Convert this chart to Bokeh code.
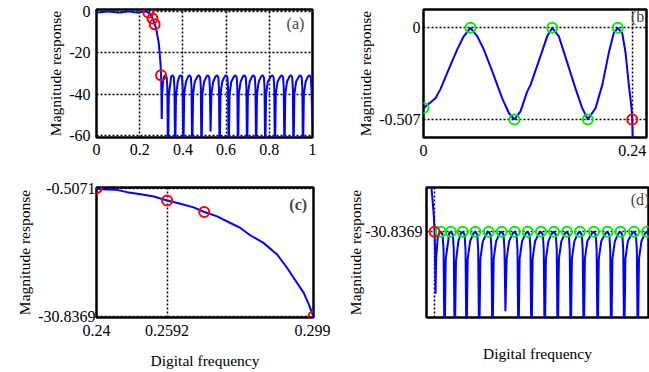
from bokeh.plotting import figure
from bokeh.layouts import column, row
from bokeh.models import Range1d, FixedTicker, Label
from bokeh.embed import file_html
from bokeh.resources import INLINE

FONT = "Liberation Serif"

# ---------------- data ----------------
# passband (panel b)
pass_f = [0.0, 0.0138, 0.0195, 0.0291, 0.0388, 0.0463, 0.0540, 0.0618, 0.0693, 0.0808,
          0.0905, 0.0981, 0.1045, 0.1115, 0.1191, 0.1230, 0.1346, 0.1422, 0.1480, 0.1556,
          0.1652, 0.1748, 0.1825, 0.1889, 0.1978, 0.2055, 0.2131, 0.2188, 0.2234, 0.2285,
          0.2323, 0.2361, 0.2392, 0.2400]
pass_m = [-0.444, -0.390, -0.339, -0.228, -0.119, -0.047, 0.0, -0.047, -0.119, -0.263,
          -0.390, -0.471, -0.507, -0.462, -0.354, -0.317, -0.155, -0.047, 0.0, -0.047,
          -0.191, -0.336, -0.444, -0.507, -0.444, -0.317, -0.137, -0.029, 0.0, -0.029,
          -0.137, -0.317, -0.444, -0.5071]
# transition band (panel c)
trans_f = [0.2412, 0.2452, 0.2483, 0.2520, 0.2556, 0.2592, 0.2628, 0.2664, 0.2693, 0.2728,
           0.2764, 0.2791, 0.2818, 0.2854, 0.2891, 0.2918, 0.2936, 0.2963, 0.2977, 0.2990]
trans_m = [-0.75, -0.85, -1.44, -1.92, -2.47, -3.40, -4.18, -5.04, -6.14, -7.16,
           -8.73, -9.90, -11.63, -13.43, -16.17, -19.31, -21.66, -25.19, -27.93, -30.8369]
# stopband (panels a, d)
stop_f = [0.3005, 0.3020, 0.3040, 0.3090, 0.3140,
          0.319, 0.325, 0.328, 0.331, 0.335, 0.343, 0.346,
          0.352, 0.358, 0.361, 0.364, 0.368, 0.376, 0.384,
          0.390, 0.396, 0.399, 0.402, 0.406, 0.414, 0.425,
          0.431, 0.437, 0.440, 0.443, 0.447, 0.455, 0.468,
          0.474, 0.480, 0.483, 0.486, 0.490, 0.498, 0.510,
          0.516, 0.522, 0.525, 0.528, 0.532, 0.540, 0.552,
          0.558, 0.564, 0.567, 0.570, 0.574, 0.582, 0.594,
          0.600, 0.606, 0.609, 0.612, 0.616, 0.624, 0.637,
          0.643, 0.649, 0.652, 0.655, 0.659, 0.667, 0.679,
          0.685, 0.691, 0.694, 0.697, 0.701, 0.709, 0.721,
          0.727, 0.733, 0.736, 0.739, 0.743, 0.751, 0.763,
          0.769, 0.775, 0.778, 0.781, 0.785, 0.793, 0.808,
          0.814, 0.820, 0.823, 0.826, 0.830, 0.838, 0.852,
          0.858, 0.864, 0.867, 0.870, 0.874, 0.882, 0.894,
          0.900, 0.906, 0.909, 0.912, 0.916, 0.924, 0.938,
          0.944, 0.950, 0.953, 0.956, 0.960, 0.968, 0.980,
          0.986, 0.992, 0.995, 1.000]
stop_m = [-38.0, -52.0, -40.0, -33.0, -31.3,
          -30.84, -31.8, -37.0, -72.0, -40.0, -34.0, -31.3,
          -30.84, -31.8, -37.0, -72.0, -41.0, -34.0, -31.3,
          -30.84, -31.8, -37.0, -72.0, -40.0, -34.0, -31.3,
          -30.84, -31.8, -37.0, -72.0, -40.0, -34.0, -31.3,
          -30.84, -31.8, -37.0, -72.0, -40.0, -34.0, -31.3,
          -30.84, -31.8, -37.0, -58.0, -40.0, -34.0, -31.3,
          -30.84, -31.8, -37.0, -72.0, -40.0, -34.0, -31.3,
          -30.84, -31.8, -37.0, -72.0, -40.0, -34.0, -31.3,
          -30.84, -31.8, -37.0, -72.0, -40.0, -34.0, -31.3,
          -30.84, -31.8, -37.0, -72.0, -40.0, -34.0, -31.3,
          -30.84, -31.8, -37.0, -72.0, -40.0, -34.0, -31.3,
          -30.84, -31.8, -37.0, -72.0, -40.0, -34.0, -31.3,
          -30.84, -31.8, -37.0, -72.0, -40.0, -34.0, -31.3,
          -30.84, -31.8, -37.0, -72.0, -40.0, -34.0, -31.3,
          -30.84, -31.8, -37.0, -72.0, -40.0, -34.0, -31.3,
          -30.84, -31.8, -37.0, -72.0, -40.0, -34.0, -31.3,
          -30.84, -31.8, -37.0, -54.0]

freq = pass_f + trans_f + stop_f
mag = pass_m + trans_m + stop_m

# marked points
red_f = [0.24, 0.2592, 0.2693, 0.299]
red_m = [-0.5071, -3.40, -6.14, -30.8369]
green_b_f = [0.0, 0.0540, 0.1045, 0.1480, 0.1889, 0.2234]
green_b_m = [-0.444, 0.0, -0.507, 0.0, -0.507, 0.0]
green_d_f = [0.319, 0.352, 0.390, 0.431, 0.474, 0.516, 0.558, 0.600, 0.643,
             0.685, 0.727, 0.769, 0.814, 0.858, 0.900, 0.944, 0.986]
green_d_m = [-30.8369] * 17

# ticks
a_xticks = [0, 0.2, 0.4, 0.6, 0.8, 1]
a_xlabels = ["0", "0.2", "0.4", "0.6", "0.8", "1"]
a_yticks = [0, -20, -40, -60]
a_ylabels = ["0", "-20", "-40", "-60"]
b_xticks = [0, 0.24]
b_xlabels = ["0", "0.24"]
b_yticks = [0, -0.507]
b_ylabels = ["0", "-0.507"]
c_xticks = [0.24, 0.2592, 0.299]
c_xlabels = ["0.24", "0.2592", "0.299"]
c_yticks = [-0.5071, -30.8369]
c_ylabels = ["-0.5071", "-30.8369"]
d_yticks = [-30.8369]
d_ylabels = ["-30.8369"]


def make_fig(width, height, bl, br, bt, bb, xr, yr):
    p = figure(width=width, height=height, output_backend="svg", toolbar_location=None,
               x_range=Range1d(*xr), y_range=Range1d(*yr),
               min_border_left=bl, min_border_right=br,
               min_border_top=bt, min_border_bottom=bb)
    p.outline_line_color = "black"
    p.outline_line_width = 2.5
    p.outline_line_alpha = 1.0
    for ax in p.axis:
        ax.axis_line_color = None
        ax.major_tick_line_color = None
        ax.minor_tick_line_color = None
        ax.major_tick_out = 0
        ax.major_tick_in = 0
        ax.minor_tick_out = 0
        ax.minor_tick_in = 0
        ax.major_label_text_font = FONT
        ax.major_label_text_font_size = "16px"
        ax.major_label_text_color = "black"
        ax.axis_label_text_font = FONT
        ax.axis_label_text_font_size = "15.5px"
        ax.axis_label_text_font_style = "normal"
        ax.axis_label_text_color = "black"
    for ax in p.yaxis:
        ax.major_label_text_align = "right"
    for g in (p.xgrid, p.ygrid):
        g.grid_line_color = "black"
        g.grid_line_dash = "2 2"
        g.grid_line_width = 1.5
        g.grid_line_alpha = 1.0
    return p


def set_ticks(axis, grid, ticks, labels):
    axis.ticker = FixedTicker(ticks=ticks)
    axis.major_label_overrides = {t: l for t, l in zip(ticks, labels)}
    grid.ticker = FixedTicker(ticks=ticks)


def circles(p, xs, ys, color):
    p.scatter(xs, ys, marker="circle", size=10, fill_color=None,
              line_color=color, line_width=2)


BLUE = "#0000ff"
RED = "#ff0000"
GREEN = "#00ee00"

# ---------------- panel (a) ----------------
pa = make_fig(330, 170, 96, 18, 9, 31, (0, 1), (-60.95, 0.95))
set_ticks(pa.xaxis[0], pa.xgrid[0], a_xticks, a_xlabels)
set_ticks(pa.yaxis[0], pa.ygrid[0], a_yticks, a_ylabels)
pa.xaxis.major_label_standoff = 6
pa.yaxis.major_label_standoff = 6
pa.yaxis.axis_label = "Magnitude response"
pa.yaxis.axis_label_standoff = 2
pa.line(freq, mag, line_color=BLUE, line_width=2)
circles(pa, red_f, red_m, RED)
pa.add_layout(Label(x=0.921, y=-5.7, text="(a)", text_font=FONT, text_font_size="16px",
                    text_align="center", text_baseline="middle"))

# ---------------- panel (b) ----------------
pb = make_fig(319, 170, 93, 3, 6, 33, (0, 0.2564), (-0.6065, 0.1013))
set_ticks(pb.xaxis[0], pb.xgrid[0], b_xticks, b_xlabels)
set_ticks(pb.yaxis[0], pb.ygrid[0], b_yticks, b_ylabels)
pb.xaxis.major_label_standoff = 7
pb.yaxis.major_label_standoff = 3
pb.yaxis.axis_label = "Magnitude response"
pb.yaxis.axis_label_standoff = 2
pb.line(freq, mag, line_color=BLUE, line_width=2)
circles(pb, green_b_f, green_b_m, GREEN)
circles(pb, red_f[:1], red_m[:1], RED)
pb.add_layout(Label(x=0.2492, y=0.063, text="(b)", text_font=FONT, text_font_size="16px",
                    text_align="center", text_baseline="middle"))

# ---------------- panel (c) ----------------
pc = make_fig(330, 202, 96, 17, 16, 55, (0.24, 0.299), (-31.07, -0.343))
set_ticks(pc.xaxis[0], pc.xgrid[0], c_xticks, c_xlabels)
set_ticks(pc.yaxis[0], pc.ygrid[0], c_yticks, c_ylabels)
pc.xaxis.major_label_standoff = 7
pc.yaxis.major_label_standoff = 1
pc.yaxis.axis_label = "Magnitude response"
pc.yaxis.axis_label_standoff = 2
pc.xaxis.axis_label = "Digital frequency"
pc.xaxis.axis_label_standoff = 13
pc.line(freq, mag, line_color=BLUE, line_width=2)
circles(pc, red_f, red_m, RED)
pc.add_layout(Label(x=0.29485, y=-4.34, text="(c)", text_font=FONT, text_font_size="16px",
                    text_font_style="bold", text_align="center", text_baseline="middle"))

# ---------------- panel (d) ----------------
pd_ = make_fig(319, 202, 96, 1, 17, 55, (0.2728, 0.9907), (-60.1, -15.7))
pd_.xaxis[0].ticker = FixedTicker(ticks=[])
pd_.xgrid[0].ticker = FixedTicker(ticks=[0.299])
set_ticks(pd_.yaxis[0], pd_.ygrid[0], d_yticks, d_ylabels)
pd_.yaxis.major_label_standoff = 4
pd_.yaxis.axis_label = "Magnitude response"
pd_.yaxis.axis_label_standoff = -2
pd_.xaxis.axis_label = "Digital frequency"
pd_.xaxis.axis_label_standoff = 27
pd_.line(freq, mag, line_color=BLUE, line_width=2)
circles(pd_, green_d_f, green_d_m, GREEN)
circles(pd_, red_f[3:], red_m[3:], RED)
pd_.add_layout(Label(x=0.9636, y=-19.9, text="(d)", text_font=FONT, text_font_size="16px",
                     text_align="center", text_baseline="middle"))

layout = column(row(pa, pb), row(pc, pd_))
open("out.html", "w").write(file_html(layout, INLINE))
